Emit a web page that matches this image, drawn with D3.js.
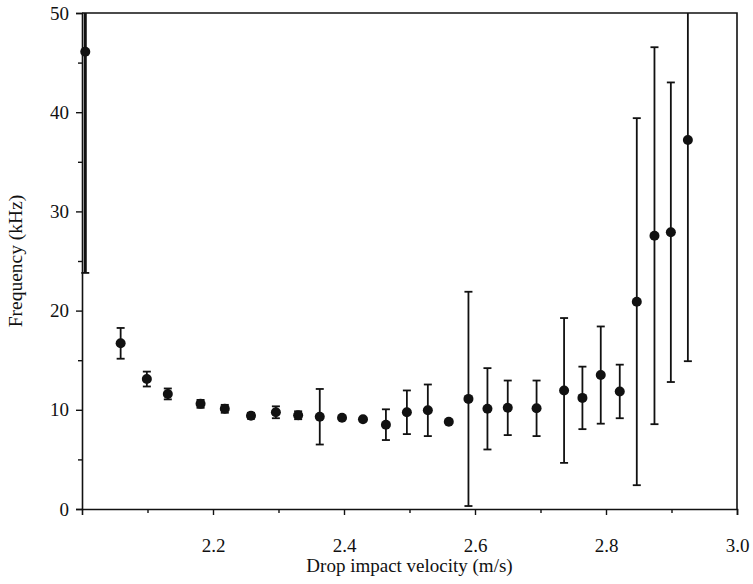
<!DOCTYPE html>
<html>
<head>
<meta charset="utf-8">
<script src="https://cdn.jsdelivr.net/npm/d3@7"></script>
<style>
    body { margin: 0; background: #fff; }
    svg { display: block; }
    text { font-family: "Liberation Serif", "Times New Roman", serif; fill: #111; }
</style>
</head>
<body>
<div id="chart"></div>
<script>
// velocity (m/s), mean frequency (kHz), error half-width (kHz)
var velocity = [2.005, 2.059, 2.099, 2.131, 2.181, 2.218, 2.258, 2.296, 2.330, 2.363,
    2.397, 2.429, 2.464, 2.496, 2.528, 2.560, 2.590, 2.619, 2.650, 2.694,
    2.736, 2.764, 2.792, 2.821, 2.847, 2.874, 2.899, 2.925];
var frequency = [46.1, 16.7, 13.1, 11.6, 10.6, 10.1, 9.4, 9.75, 9.45, 9.3,
    9.2, 9.05, 8.5, 9.75, 9.95, 8.8, 11.1, 10.1, 10.2, 10.15,
    11.95, 11.2, 13.5, 11.85, 20.9, 27.55, 27.9, 37.2];
var errors = [22.3, 1.55, 0.75, 0.55, 0.4, 0.4, 0.3, 0.6, 0.4, 2.8,
    0, 0, 1.55, 2.2, 2.6, 0, 10.8, 4.1, 2.75, 2.8,
    7.3, 3.15, 4.9, 2.7, 18.5, 19.0, 15.1, 22.3];

var xTicks = [2.2, 2.4, 2.6, 2.8, 3.0];
var xMinor = [2.1, 2.3, 2.5, 2.7, 2.9];
var yTicks = [0, 10, 20, 30, 40, 50];
var yMinor = [5, 15, 25, 35, 45];

function init() {
    var W = 753;
    var H = 584;
    var margin = {top: 13, right: 16, bottom: 75, left: 82};
    var w = W - margin.left - margin.right;
    var h = H - margin.top - margin.bottom;

    var data = velocity.map(function (v, i) {
        return {x: v, y: frequency[i], e: errors[i]};
    });

    var xScale = d3.scaleLinear().domain([2.0, 3.0]).range([0, w]);
    var yScale = d3.scaleLinear().domain([0, 50]).range([h, 0]);

    var svg = d3.select("#chart")
        .append("svg")
        .attr("width", W)
        .attr("height", H);

    var g = svg.append("g")
        .attr("transform", "translate(" + margin.left + "," + margin.top + ")");

    svg.append("defs").append("clipPath")
        .attr("id", "plot-clip")
        .append("rect")
        .attr("x", -2).attr("y", 0)
        .attr("width", w + 2).attr("height", h);

    // frame (top + right)
    g.append("path")
        .attr("d", "M0,0H" + w + "V" + h)
        .attr("fill", "none")
        .attr("stroke", "#111")
        .attr("stroke-width", 1.6);

    // x axis
    g.append("g")
        .attr("transform", "translate(0," + h + ")")
        .call(d3.axisBottom(xScale).tickValues(xTicks).tickSize(6).tickPadding(24)
            .tickFormat(d3.format(".1f")));
    g.append("g")
        .attr("transform", "translate(0," + h + ")")
        .call(d3.axisBottom(xScale).tickValues(xMinor).tickSize(4).tickFormat(""))
        .select(".domain").remove();

    // y axis
    g.append("g")
        .call(d3.axisLeft(yScale).tickValues(yTicks).tickSize(6).tickPadding(7));
    g.append("g")
        .call(d3.axisLeft(yScale).tickValues(yMinor).tickSize(4).tickFormat(""))
        .select(".domain").remove();

    g.selectAll(".domain").attr("stroke", "#111").attr("stroke-width", 1.6);
    g.selectAll(".tick line").attr("stroke", "#111").attr("stroke-width", 1.4);
    g.selectAll(".tick text").attr("font-size", 19)
        .style("font-family", "'Liberation Serif', serif").attr("fill", "#111");

    // error bars
    var marks = g.append("g").attr("clip-path", "url(#plot-clip)");
    var withErr = data.filter(function (d) { return d.e > 0; });
    var cap = 4;

    marks.selectAll(".err")
        .data(withErr)
        .enter()
        .append("line")
        .attr("class", "err")
        .attr("x1", function (d) { return xScale(d.x); })
        .attr("x2", function (d) { return xScale(d.x); })
        .attr("y1", function (d) { return yScale(d.y + d.e); })
        .attr("y2", function (d) { return yScale(d.y - d.e); })
        .attr("stroke", "#111")
        .attr("stroke-width", function (d, i) { return i === 0 ? 3 : 1.8; });

    marks.selectAll(".cap-top")
        .data(withErr)
        .enter()
        .append("line")
        .attr("class", "cap-top")
        .attr("x1", function (d) { return xScale(d.x) - cap; })
        .attr("x2", function (d) { return xScale(d.x) + cap; })
        .attr("y1", function (d) { return yScale(d.y + d.e); })
        .attr("y2", function (d) { return yScale(d.y + d.e); })
        .attr("stroke", "#111")
        .attr("stroke-width", 1.8);

    marks.selectAll(".cap-bot")
        .data(withErr)
        .enter()
        .append("line")
        .attr("class", "cap-bot")
        .attr("x1", function (d) { return xScale(d.x) - cap; })
        .attr("x2", function (d) { return xScale(d.x) + cap; })
        .attr("y1", function (d) { return yScale(d.y - d.e); })
        .attr("y2", function (d) { return yScale(d.y - d.e); })
        .attr("stroke", "#111")
        .attr("stroke-width", 1.8);

    // points
    marks.selectAll(".dot")
        .data(data)
        .enter()
        .append("circle")
        .attr("class", "dot")
        .attr("cx", function (d) { return xScale(d.x); })
        .attr("cy", function (d) { return yScale(d.y); })
        .attr("r", 5)
        .attr("fill", "#111");

    // axis titles
    svg.append("text")
        .attr("x", margin.left + w / 2)
        .attr("y", 572)
        .attr("text-anchor", "middle")
        .attr("font-size", 19)
        .text("Drop impact velocity (m/s)");

    svg.append("text")
        .attr("transform", "translate(22," + (margin.top + h / 2) + ") rotate(-90)")
        .attr("text-anchor", "middle")
        .attr("font-size", 19.5)
        .text("Frequency (kHz)");
}

window.onload = init;
</script>
</body>
</html>
